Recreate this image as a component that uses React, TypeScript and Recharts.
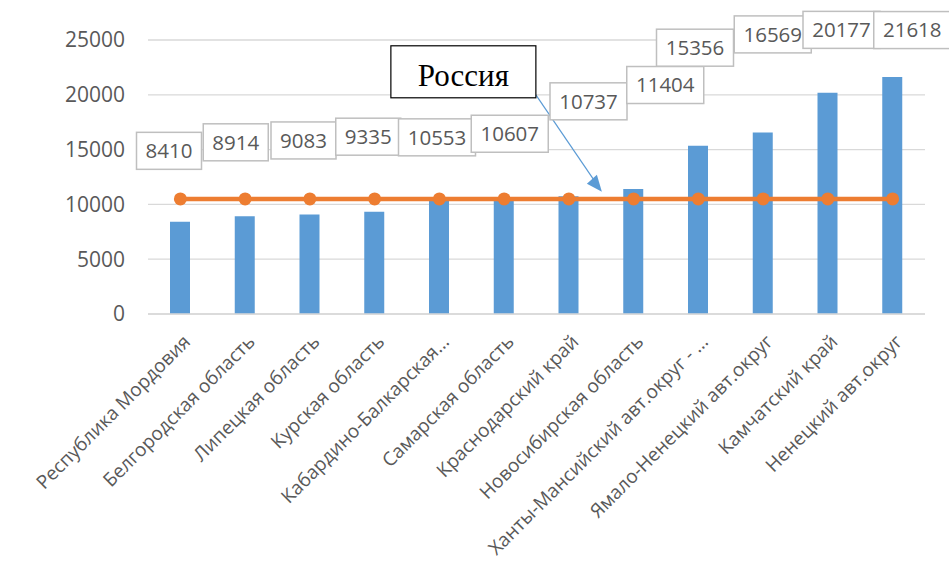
import {
  Bar,
  CartesianGrid,
  ComposedChart,
  LabelList,
  Line,
  ReferenceDot,
  XAxis,
  YAxis,
} from 'recharts'

const regions = [
  'Республика Мордовия',
  'Белгородская область',
  'Липецкая область',
  'Курская область',
  'Кабардино-Балкарская...',
  'Самарская область',
  'Краснодарский край',
  'Новосибирская область',
  'Ханты-Мансийский авт.округ - ...',
  'Ямало-Ненецкий авт.округ',
  'Камчатский край',
  'Ненецкий авт.округ',
]

const salary = [8410, 8914, 9083, 9335, 10553, 10607, 10737, 11404, 15356, 16569, 20177, 21618]

const russia = [10500, 10500, 10500, 10500, 10500, 10500, 10500, 10500, 10500, 10500, 10500, 10500]

const yTicks = [0, 5000, 10000, 15000, 20000, 25000]

// hand placed callout boxes, [dx, dy] from the top centre of each bar
const labelNudge = [
  [-11, -71], [-9, -74], [-6, -74], [-6, -75], [-2, -61], [6, -64],
  [20, -95], [32, -104], [-3, -98], [10, -98], [14, -63], [20, -47],
]

const data = regions.map((name, i) => ({ name, salary: salary[i], russia: russia[i] }))

const FONT = "'Open Sans', 'Noto Sans', sans-serif"
const GREY = '#595959'

function RegionTick({ x, y, payload }: any) {
  return (
    <g transform={`translate(${x + 11},${y + 29})`}>
      <text transform='rotate(-45)' textAnchor='end' fontSize={19} fill={GREY} fontFamily={FONT}>
        {payload.value}
      </text>
    </g>
  )
}

function ValueBox(props: any) {
  const { x, y, width, value } = props
  const i = props.index ?? salary.indexOf(value)
  const [dx, dy] = labelNudge[i]
  const txt = String(value)
  const w = txt.length * 12 + 17
  const h = 37
  const cx = x + width / 2 + dx
  const cy = y + dy
  return (
    <g>
      <rect x={cx - w / 2} y={cy - h / 2} width={w} height={h} fill='#fff' stroke='#bfbfbf' strokeWidth={1.5} />
      <text x={cx} y={cy} dy='0.36em' textAnchor='middle' fontSize={20.5} fill={GREY} fontFamily={FONT}>
        {txt}
      </text>
    </g>
  )
}

function RussiaNote({ cx, cy }: any) {
  const tipX = cx + 33
  const tipY = cy
  const fromX = cx - 33
  const fromY = cy - 97
  return (
    <g>
      <line x1={fromX} y1={fromY} x2={tipX - 6} y2={tipY - 9} stroke='#5b9bd5' strokeWidth={1.2} />
      <polygon
        points={`${tipX},${tipY} ${tipX - 15},${tipY - 8} ${tipX - 5},${tipY - 17}`}
        fill='#5b9bd5'
      />
      <rect x={cx - 178} y={cy - 146} width={145} height={52} fill='#fff' stroke='#000' strokeWidth={1.2} />
      <text x={cx - 105.5} y={cy - 106} textAnchor='middle' fontSize={31} fill='#000' fontFamily="'Liberation Serif', 'Times New Roman', serif">
        Россия
      </text>
    </g>
  )
}

export default function App() {
  return (
    <div style={{ position: 'absolute', left: 0, top: 0, background: '#fff' }}>
      <ComposedChart
        width={949}
        height={566}
        data={data}
        margin={{ top: 40, right: 24, left: 0, bottom: 0 }}
      >
        <CartesianGrid vertical={false} stroke='#d9d9d9' strokeWidth={1.3} />
        <XAxis
          dataKey='name'
          interval={0}
          height={252}
          tickLine={false}
          tickSize={0}
          tickMargin={0}
          axisLine={{ stroke: '#d9d9d9', strokeWidth: 1.3 }}
          tick={<RegionTick />}
        />
        <YAxis
          width={148}
          domain={[0, 25000]}
          ticks={yTicks}
          tickLine={false}
          axisLine={false}
          tickSize={0}
          tickMargin={23}
          tick={{ fill: GREY, fontSize: 21, fontFamily: FONT }}
        />
        <Bar dataKey='salary' fill='#5b9bd5' barSize={20} isAnimationActive={false}>
          <LabelList dataKey='salary' content={<ValueBox />} />
        </Bar>
        <Line
          type='linear'
          dataKey='russia'
          stroke='#ed7d31'
          strokeWidth={4.5}
          dot={{ r: 6.5, fill: '#ed7d31', stroke: '#ed7d31', strokeWidth: 0 }}
          activeDot={false}
          isAnimationActive={false}
        />
        <ReferenceDot x={regions[6]} y={11150} shape={<RussiaNote />} />
      </ComposedChart>
    </div>
  )
}
